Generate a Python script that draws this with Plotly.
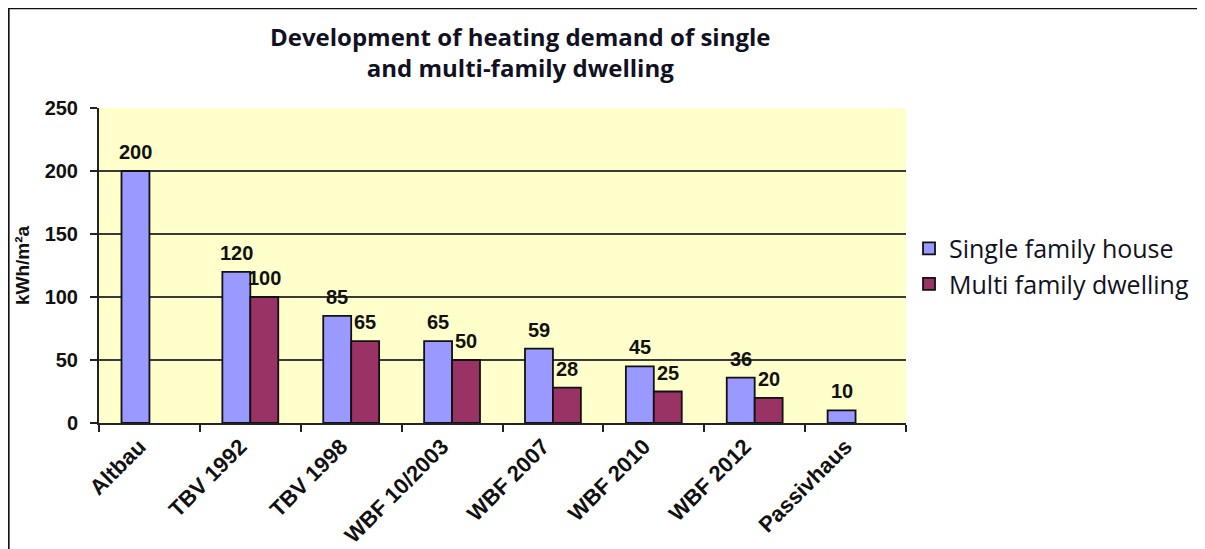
import plotly.graph_objects as go

categories = ["Altbau", "TBV 1992", "TBV 1998", "WBF 10/2003", "WBF 2007",
              "WBF 2010", "WBF 2012", "Passivhaus"]
single_family = [200, 120, 85, 65, 59, 45, 36, 10]
multi_family = [None, 100, 65, 50, 28, 25, 20, None]
y_ticks = [0, 50, 100, 150, 200, 250]

label_font = dict(family="Liberation Sans, Arial", size=20, color="#111111", weight="bold")

fig = go.Figure()
fig.add_trace(go.Bar(
    name="Single family house",
    x=categories,
    y=single_family,
    marker=dict(color="#9999FF", line=dict(color="#111111", width=1.8)),
))
fig.add_trace(go.Bar(
    name="Multi family dwelling",
    x=categories,
    y=multi_family,
    marker=dict(color="#993366", line=dict(color="#111111", width=1.8)),
))

# value labels above the bars
for cat, val in zip(categories, single_family):
    fig.add_annotation(x=cat, y=val, text=str(val), showarrow=False,
                       xshift=-14, yshift=6, yanchor="bottom", font=label_font)
for cat, val in zip(categories, multi_family):
    if val is None:
        continue
    fig.add_annotation(x=cat, y=val, text=str(val), showarrow=False,
                       xshift=14, yshift=6, yanchor="bottom", font=label_font)

# outer chart frame (cut off at right and bottom as in the source image)
fig.add_shape(type="rect", xref="paper", yref="paper",
              x0=-0.1126, x1=1.40, y0=-0.5, y1=1.318,
              line=dict(color="#111111", width=3), layer="above")

# page body has an 8px margin, so the figure is a bit smaller than the window
fig.update_layout(
    width=1197,
    height=541,
    margin=dict(l=91, r=298, t=100, b=126),
    paper_bgcolor="white",
    plot_bgcolor="#FFFFCC",
    barmode="group",
    bargap=0.446,
    bargroupgap=0,
    title=dict(
        text="Development of heating demand of single<br>and multi-family dwelling",
        x=0.522, xref="paper", xanchor="center",
        y=0.93, yanchor="middle",
        font=dict(family="Open Sans", size=24, color="#111122", weight="bold"),
    ),
    legend=dict(
        x=1.0025, xanchor="left", y=0.498, yanchor="middle",
        font=dict(family="Open Sans", size=25, color="#111122"),
        bgcolor="rgba(0,0,0,0)",
    ),
    xaxis=dict(
        tickangle=-45,
        tickfont=dict(family="Liberation Sans, Arial", size=22, color="#111111", weight="bold"),
        ticklabelshift=-10,
        showline=True, linecolor="#222222", linewidth=2,
        ticks="outside", tickson="boundaries", ticklen=7, tickwidth=2, tickcolor="#222222",
        showgrid=False, automargin=False,
    ),
    yaxis=dict(
        range=[0, 250],
        tickvals=y_ticks,
        title=dict(text="kWh/m²a", standoff=10,
                   font=dict(family="Liberation Sans, Arial", size=19, color="#111111", weight="bold")),
        tickfont=dict(family="Liberation Sans, Arial", size=20, color="#111111", weight="bold"),
        ticklabelstandoff=8,
        showline=True, linecolor="#222222", linewidth=2,
        ticks="outside", ticklen=7, tickwidth=2, tickcolor="#222222",
        showgrid=True, gridcolor="#3a3a3a", gridwidth=1.5,
        zeroline=False, automargin=False,
    ),
)

fig.write_html("out.html")
